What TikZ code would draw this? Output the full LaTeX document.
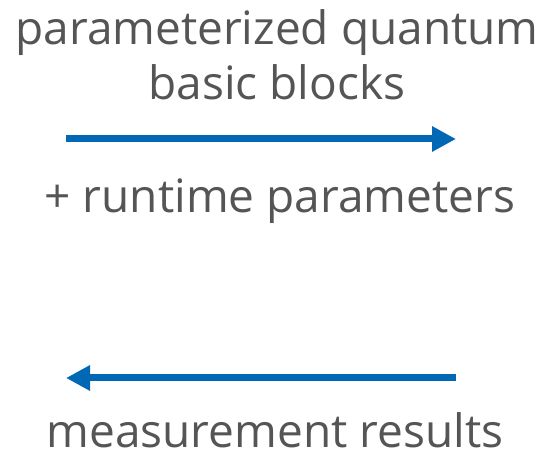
\documentclass[tikz,border=0pt]{standalone}
\usepackage{fontspec}
\setmainfont{Open Sans}
\usetikzlibrary{arrows.meta}
\definecolor{labelgray}{HTML}{555555}
\definecolor{flowblue}{HTML}{0068B5}
\tikzset{
  lbl/.style={text=labelgray, anchor=base, inner sep=0pt,
    font=\fontsize{46}{54}\selectfont},
  flow/.style={draw=flowblue, line width=7pt,
    -{Triangle[length=24pt,width=24pt]}}
}
\begin{document}
\begin{tikzpicture}[x=1pt,y=1pt]
  \useasboundingbox (0,0) rectangle (549,463);
  % request side: compiled blocks and their parameters
  \node[lbl] (top1) at (277,463-45) {parameterized quantum};
  \node[lbl] (top2) at (277,463-100) {basic blocks};
  \coordinate (a1s) at (66,463-139);
  \coordinate (a1e) at (456,463-139);
  \draw[flow] (a1s) -- (a1e);
  \node[lbl] (mid) at (280,463-213) {+ runtime parameters};
  % response side: results coming back
  \coordinate (a2s) at (456,463-378);
  \coordinate (a2e) at (66,463-378);
  \draw[flow] (a2s) -- (a2e);
  \node[lbl] (bot) at (275,463-448) {measurement results};
\end{tikzpicture}
\end{document}
